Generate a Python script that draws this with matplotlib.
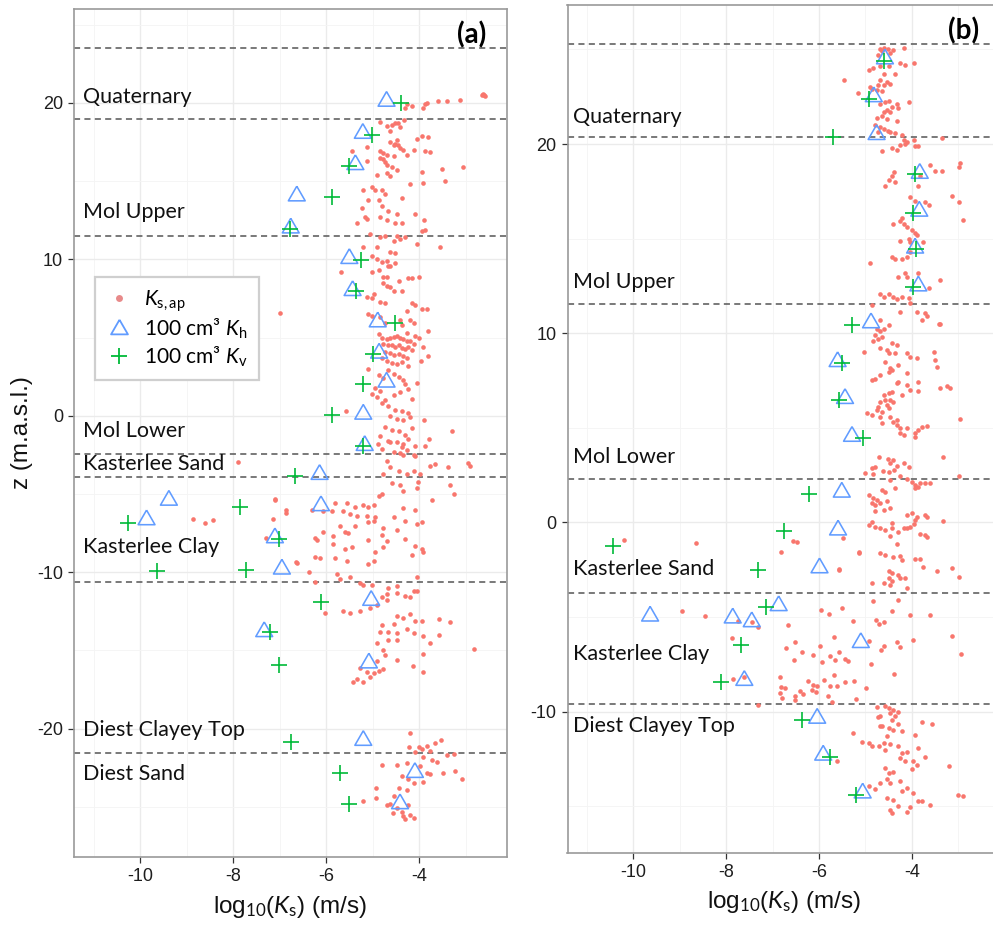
import matplotlib
matplotlib.use("Agg")
import matplotlib.pyplot as plt
from matplotlib.lines import Line2D
from matplotlib.ticker import MultipleLocator
import numpy as np

# ---------------- data ----------------
# panel (a): boundaries (m.a.s.l.) and layer labels
a_bounds = [23.5, 18.95, 11.5, -2.45, -3.9, -10.62, -21.55]
a_labels = ["Quaternary", "Mol Upper", "Mol Lower", "Kasterlee Sand",
            "Kasterlee Clay", "Diest Clayey Top", "Diest Sand"]
a_label_z = [20.4, 13.0, -1.0, -3.1, -8.4, -20.1, -22.9]

# panel (a): 100 cm3 Kh (triangles) and Kv (plus)
a_kh_x = [-4.70, -5.21, -5.37, -6.63, -6.76, -5.50, -5.43, -4.89, -4.86, -4.70, -5.20, -5.17,
          -6.14, -9.38, -6.11, -9.86, -7.10, -6.95, -5.03, -7.33, -5.08, -5.20, -4.09, -4.41]
a_kh_z = [20.1, 18.05, 16.05, 14.05, 12.0, 10.05, 8.0, 6.0, 4.0, 2.15, 0.1, -1.9,
          -3.75, -5.4, -5.75, -6.65, -7.8, -9.8, -11.8, -13.8, -15.8, -20.75, -22.8, -24.8]
a_kv_x = [-4.39, -5.02, -5.50, -5.87, -6.77, -5.25, -5.35, -4.52, -5.00, -5.20, -5.87, -5.21,
          -6.66, -7.85, -10.26, -7.02, -9.63, -7.73, -6.11, -7.20, -7.02, -6.76, -5.70, -5.50]
a_kv_z = [19.98, 17.97, 15.96, 14.0, 11.94, 9.98, 7.97, 5.96, 3.95, 2.03, 0.04, -1.92,
          -3.85, -5.81, -6.84, -7.86, -9.94, -9.87, -11.88, -13.85, -15.92, -20.85, -22.82, -24.83]

# panel (a): Ks,ap (log10 Ks, z)
a_dots = [
    (-4.26, 19.9), (-4.16, 19.8), (-3.91, 19.7), (-3.87, 19.9), (-3.83, 20.0), (-3.60, 20.1),
    (-3.40, 20.1), (-3.13, 20.2), (-2.65, 20.5), (-2.62, 20.55), (-2.60, 20.5), (-2.58, 20.45),
    (-4.30, 19.7),
    (-4.84, 18.8), (-4.70, 18.5), (-4.59, 18.6), (-4.52, 18.7), (-4.45, 18.7), (-4.41, 18.45),
    (-4.62, 18.2), (-4.32, 18.9), (-4.05, 17.7), (-3.94, 17.9), (-3.80, 17.85), (-4.63, 17.5),
    (-4.55, 17.3), (-4.48, 17.6),
    (-4.52, 17.4), (-4.45, 17.3), (-4.41, 17.1), (-4.34, 17.0), (-4.84, 16.9),
    (-4.77, 16.8), (-4.68, 16.7), (-5.13, 17.2), (-5.45, 16.9), (-4.12, 17.0), (-3.87, 16.95),
    (-3.76, 16.85), (-4.27, 16.7),
    (-4.77, 16.4), (-4.73, 16.2), (-4.68, 16.0), (-4.84, 16.5), (-4.59, 15.9), (-4.48, 15.7),
    (-4.70, 15.5), (-4.62, 15.3), (-4.91, 15.4), (-5.13, 16.3), (-3.94, 15.6), (-3.51, 15.8),
    (-3.05, 15.9), (-4.55, 16.6),
    (-3.91, 14.9), (-3.44, 15.0), (-4.19, 14.8), (-5.02, 14.6), (-4.95, 14.4), (-4.80, 14.4),
    (-4.73, 14.2), (-5.20, 14.4), (-5.09, 13.8), (-4.37, 13.9), (-5.23, 13.3), (-4.87, 13.8),
    (-4.80, 13.4), (-4.66, 13.1), (-4.48, 12.9), (-4.09, 12.9), (-5.16, 12.7), (-5.13, 12.6),
    (-5.34, 12.3), (-4.84, 12.7), (-4.70, 12.5), (-4.52, 12.3), (-4.37, 12.3), (-3.90, 12.5),
    (-5.05, 11.6), (-4.84, 11.4), (-4.73, 11.5), (-4.48, 11.5), (-4.41, 11.3), (-4.30, 11.4),
    (-3.94, 11.8), (-3.87, 11.9), (-4.55, 11.2), (-4.05, 11.0), (-3.55, 10.8), (-5.20, 10.8),
    (-4.91, 10.8), (-4.62, 10.5), (-4.52, 10.4),
    (-5.02, 10.2), (-4.91, 10.0), (-4.80, 9.8), (-4.70, 9.9), (-4.62, 9.6), (-4.52, 9.75),
    (-5.02, 9.2), (-4.87, 9.3), (-4.77, 8.9), (-4.70, 8.9), (-4.66, 9.6), (-5.68, 9.2),
    (-4.23, 8.8), (-4.16, 8.8), (-4.01, 8.9), (-4.44, 8.6),
    (-4.77, 8.5), (-4.70, 8.3), (-4.62, 8.2), (-4.55, 8.0), (-4.37, 8.0), (-4.98, 7.8),
    (-5.13, 7.6), (-5.02, 7.5), (-4.84, 7.3), (-4.73, 7.2), (-4.16, 7.2), (-4.09, 7.1),
    (-6.99, 6.56),
    (-5.09, 6.5), (-5.02, 6.4), (-4.84, 6.3), (-4.73, 5.9), (-4.26, 6.7), (-3.94, 6.8),
    (-3.83, 6.8), (-4.41, 6.1), (-4.19, 6.1), (-4.12, 5.9), (-4.26, 5.3), (-4.09, 5.1),
    (-4.01, 5.0), (-3.80, 5.4), (-4.37, 5.8),
    (-4.87, 5.2), (-4.80, 5.0), (-4.70, 4.9), (-4.62, 4.95), (-4.55, 5.05), (-4.48, 5.1),
    (-4.41, 5.0), (-4.34, 4.9), (-4.26, 4.8), (-4.19, 4.75), (-4.12, 4.6), (-4.77, 4.6),
    (-4.66, 4.5), (-4.59, 4.55), (-4.52, 4.4), (-4.44, 4.5), (-4.37, 4.35), (-4.30, 4.3),
    (-4.23, 4.4), (-4.16, 4.2), (-4.73, 4.1), (-4.62, 4.0), (-4.55, 3.9), (-4.44, 3.95),
    (-4.34, 3.8), (-4.26, 3.7), (-4.80, 3.7), (-4.70, 3.5), (-4.59, 3.4), (-4.48, 3.3),
    (-4.37, 3.45), (-4.23, 3.2), (-3.91, 4.4), (-3.80, 3.8), (-3.95, 3.5),
    (-5.09, 3.0), (-4.87, 2.6), (-4.77, 2.4), (-4.66, 2.9), (-4.55, 2.7), (-4.44, 2.5),
    (-4.34, 2.3), (-4.30, 2.0), (-4.23, 1.7), (-4.95, 1.8), (-4.84, 1.6), (-4.91, 1.2),
    (-4.73, 1.0), (-4.55, 1.3), (-4.41, 1.5), (-4.16, 1.1), (-4.04, 2.1), (-5.01, 1.4),
    (-4.80, 0.8), (-4.66, 0.6), (-4.52, 0.4), (-4.37, 0.3), (-4.23, 0.2), (-4.62, 0.0),
    (-4.48, -0.2), (-4.34, -0.3), (-4.19, -0.1), (-3.90, -0.3), (-5.58, 0.3), (-4.73, -0.7),
    (-4.59, -0.9), (-4.44, -1.0), (-4.30, -1.2), (-4.16, -0.8), (-4.84, -1.3), (-4.66, -1.6),
    (-4.48, -1.7), (-4.34, -1.8), (-4.23, -1.5), (-4.09, -1.9), (-4.80, -2.1), (-4.55, -2.3),
    (-4.41, -2.4), (-4.27, -2.2), (-3.30, -1.0), (-3.78, -1.5), (-4.12, -2.5),
    (-4.88, -1.8), (-4.62, -1.7), (-4.37, -2.0), (-4.34, -2.5), (-4.09, -2.6), (-3.87, -1.9),
    (-4.70, -2.9), (-4.62, -3.3), (-4.77, -3.7), (-4.44, -3.5), (-4.27, -3.7), (-4.12, -3.5),
    (-3.98, -3.7), (-3.76, -3.2), (-3.66, -3.1), (-3.37, -3.3), (-2.94, -3.0), (-2.90, -3.2),
    (-4.59, -4.3), (-4.41, -4.4), (-4.34, -4.8), (-4.05, -4.6), (-4.02, -4.2), (-3.33, -4.4),
    (-3.26, -5.0), (-3.73, -5.4), (-7.89, -2.95),
    (-7.10, -5.4), (-6.87, -6.2), (-7.15, -6.6), (-7.29, -7.8), (-6.63, -9.4), (-6.36, -10.0),
    (-6.24, -10.6), (-8.87, -6.62), (-8.60, -6.88), (-8.44, -6.67), (-7.09, -5.3), (-6.86, -6.05),
    (-6.65, -9.36),
    (-5.81, -5.6), (-5.55, -5.6), (-5.38, -5.8), (-5.20, -5.7), (-5.09, -5.8), (-4.98, -5.7),
    (-4.87, -5.1), (-4.80, -5.0), (-4.34, -5.9), (-4.09, -6.0), (-6.31, -6.0), (-6.06, -6.1),
    (-5.88, -6.1), (-5.63, -6.1), (-5.48, -6.3), (-5.34, -6.4), (-5.12, -6.4), (-4.95, -6.5),
    (-4.55, -6.5), (-4.30, -6.7), (-4.05, -6.9), (-3.94, -6.8), (-5.70, -7.05), (-5.59, -7.4),
    (-5.52, -7.5), (-5.38, -7.05), (-5.09, -6.8), (-4.98, -6.7), (-4.77, -7.2), (-4.80, -7.65),
    (-4.70, -8.0), (-4.48, -7.3), (-4.30, -7.9), (-4.09, -8.3), (-3.94, -8.5), (-3.91, -8.7),
    (-4.16, -8.9), (-5.86, -7.7), (-5.86, -8.2), (-6.24, -7.8), (-6.20, -7.95), (-6.06, -7.4),
    (-5.59, -8.5), (-5.45, -8.4), (-5.09, -7.95), (-4.95, -8.7), (-4.77, -8.4), (-6.24, -9.0),
    (-6.13, -9.1), (-5.81, -9.1), (-5.55, -9.3), (-5.09, -9.5), (-4.98, -9.3), (-5.77, -10.1),
    (-5.70, -10.4), (-5.48, -10.3), (-5.27, -10.7), (-5.20, -10.8), (-5.02, -10.8), (-4.05, -10.3),
    (-4.48, -10.9), (-4.05, -11.2), (-4.66, -11.0),
    (-4.70, -11.4), (-4.48, -11.3), (-4.30, -11.5), (-4.19, -11.6), (-4.12, -11.2), (-4.80, -11.6),
    (-4.91, -12.1), (-4.70, -11.8), (-5.27, -12.5), (-5.48, -12.6), (-5.63, -12.5), (-6.02, -12.6),
    (-5.05, -12.3), (-4.48, -12.8), (-4.34, -12.9), (-4.19, -12.7), (-4.09, -13.1), (-3.94, -13.1),
    (-3.58, -13.0), (-3.33, -13.2), (-4.55, -13.3), (-4.80, -13.4), (-4.84, -13.8), (-4.66, -13.8),
    (-4.48, -13.9), (-4.27, -13.6), (-4.12, -13.9), (-3.91, -14.1), (-3.58, -14.0), (-3.76, -14.5),
    (-2.83, -14.9), (-4.91, -14.5), (-4.77, -15.0), (-4.66, -14.3), (-4.48, -14.3), (-4.73, -15.3),
    (-4.48, -15.6), (-4.91, -15.7), (-5.27, -16.1), (-5.12, -16.35), (-4.98, -16.45), (-4.87, -16.3),
    (-5.05, -16.7), (-5.20, -17.0), (-5.34, -16.8), (-5.43, -17.0), (-4.77, -16.2), (-4.14, -16.0),
    (-3.92, -16.35), (-3.92, -15.2),
    (-4.19, -20.3), (-4.01, -21.2), (-3.94, -21.3), (-3.83, -21.1), (-3.76, -21.4), (-3.53, -20.7),
    (-3.66, -20.9), (-3.40, -21.7), (-3.26, -21.6), (-4.21, -21.2), (-4.09, -21.5), (-3.91, -21.8),
    (-3.73, -22.0), (-3.62, -22.1), (-4.48, -22.3), (-4.27, -22.2), (-4.80, -22.3), (-3.98, -22.4),
    (-3.83, -22.8), (-3.48, -22.8), (-3.23, -22.7), (-3.08, -23.2), (-4.37, -23.0), (-4.23, -23.2),
    (-4.12, -23.5), (-3.91, -23.4), (-3.76, -22.9), (-4.44, -23.8), (-4.27, -23.9), (-4.55, -24.3),
    (-4.62, -24.8), (-4.70, -24.9), (-4.48, -25.1), (-4.37, -25.3), (-4.30, -25.8), (-4.19, -25.5),
    (-4.12, -25.7), (-4.92, -23.8), (-4.92, -24.4), (-5.21, -24.6), (-4.23, -24.9), (-4.35, -25.6),
    (-4.56, -25.4),
]

# panel (b)
b_bounds = [25.3, 20.35, 11.53, 2.29, -3.73, -9.6]
b_labels = ["Quaternary", "Mol Upper", "Mol Lower", "Kasterlee Sand",
            "Kasterlee Clay", "Diest Clayey Top"]
b_label_z = [21.44, 12.71, 3.47, -2.48, -6.94, -10.77]

b_kh_x = [-4.58, -4.82, -4.76, -3.83, -3.84, -3.93, -3.86, -4.88, -5.60, -5.44, -5.29,
          -5.51, -5.59, -5.99, -6.87, -9.64, -7.86, -7.45, -5.10, -7.61, -6.04, -5.91, -5.06]
b_kh_z = [24.5, 22.5, 20.5, 18.45, 16.45, 14.5, 12.5, 10.55, 8.5, 6.55, 4.55,
          1.6, -0.4, -2.4, -4.4, -4.95, -5.05, -5.25, -6.35, -8.35, -10.35, -12.3, -14.3]
b_kv_x = [-4.59, -4.92, -5.69, -3.93, -3.98, -3.90, -3.97, -5.28, -5.51, -5.56, -5.05,
          -6.22, -6.76, -10.45, -7.31, -7.14, -7.69, -8.12, -6.37, -5.76, -5.20]
b_kv_z = [24.40, 22.39, 20.35, 18.41, 16.38, 14.47, 12.44, 10.46, 8.45, 6.47, 4.49,
          1.51, -0.47, -1.23, -2.50, -4.46, -6.49, -8.45, -10.44, -12.41, -14.39]

b_dots = [
    (-4.68, 25.05), (-4.61, 25.1), (-4.52, 25.05), (-4.65, 24.9), (-4.72, 24.7), (-4.47, 24.8),
    (-4.40, 24.96), (-4.18, 25.1), (-4.25, 24.3), (-4.14, 24.2), (-3.96, 24.3), (-4.93, 23.9),
    (-4.83, 24.0), (-4.68, 24.1), (-4.50, 24.1), (-4.36, 23.7), (-4.61, 23.7), (-4.68, 23.4),
    (-4.54, 23.3), (-4.61, 23.1), (-5.47, 23.4), (-4.47, 23.2), (-4.72, 23.1),
    (-5.15, 22.7), (-4.86, 22.9), (-4.75, 22.85), (-4.65, 22.8), (-4.58, 22.2), (-4.50, 22.3),
    (-4.43, 21.97), (-4.32, 22.1), (-4.07, 22.2), (-4.68, 22.1), (-4.61, 21.7), (-4.54, 21.8),
    (-4.47, 21.7), (-4.29, 21.9), (-4.75, 21.4), (-4.65, 21.5), (-4.54, 21.3), (-4.32, 21.2),
    (-4.90, 23.0),
    (-4.79, 21.0), (-4.68, 20.9), (-4.61, 20.8), (-4.52, 20.7), (-4.47, 20.65), (-4.36, 20.6),
    (-4.22, 20.5), (-4.72, 20.65), (-4.18, 20.2), (-4.11, 20.1), (-3.96, 20.2), (-4.25, 19.95),
    (-4.14, 20.0), (-3.93, 19.9), (-3.86, 19.9), (-4.43, 19.8), (-4.32, 19.7), (-4.65, 19.65),
    (-3.35, 20.3),
    (-3.60, 18.9), (-3.50, 18.6), (-3.35, 18.6), (-2.96, 19.0), (-2.99, 18.8), (-4.38, 18.5),
    (-4.43, 18.3), (-4.50, 18.1), (-4.58, 17.8), (-4.36, 18.0), (-3.86, 17.8), (-3.82, 18.3),
    (-4.04, 17.2), (-3.93, 17.0), (-3.71, 16.95), (-3.64, 16.8), (-3.14, 17.25), (-2.99, 16.95),
    (-2.89, 16.0), (-4.22, 16.1), (-4.25, 15.95), (-4.18, 15.8), (-4.40, 15.8), (-4.11, 15.6),
    (-4.00, 15.45), (-3.93, 15.3), (-3.89, 15.2), (-4.07, 15.0), (-4.04, 14.8), (-4.25, 14.9),
    (-3.75, 14.8),
    (-4.43, 14.05), (-4.36, 13.9), (-4.22, 13.9), (-4.11, 14.05), (-4.90, 13.7), (-4.04, 14.3),
    (-4.14, 13.2), (-4.11, 13.0), (-4.29, 13.0), (-3.86, 13.2), (-3.64, 12.4), (-3.39, 12.8),
    (-4.68, 12.1), (-4.61, 11.9), (-4.50, 12.1), (-4.40, 11.9), (-4.32, 11.8), (-4.22, 11.9),
    (-4.07, 11.85), (-4.04, 11.6), (-4.86, 11.5), (-4.25, 11.1), (-3.89, 11.1), (-3.71, 11.05),
    (-3.68, 10.9), (-3.78, 10.7), (-3.39, 10.5), (-4.68, 10.7),
    (-4.75, 10.2), (-4.68, 10.1), (-4.61, 10.2), (-4.79, 9.9), (-4.72, 9.7), (-4.65, 9.8),
    (-4.83, 9.6), (-4.50, 10.45), (-3.42, 10.5),
    (-5.03, 9.0), (-4.68, 9.2), (-4.54, 9.1), (-4.43, 9.5), (-4.32, 9.4), (-4.36, 8.94),
    (-4.50, 8.94), (-4.11, 8.94), (-4.04, 8.76), (-3.89, 8.68), (-3.53, 9.0), (-3.50, 8.6),
    (-3.46, 8.24), (-4.58, 8.5), (-4.47, 8.15), (-4.43, 8.06), (-4.29, 8.3), (-4.11, 7.88),
    (-4.50, 7.97),
    (-4.86, 7.53), (-4.79, 7.6), (-4.68, 7.8), (-4.32, 7.35), (-4.29, 7.45), (-4.11, 7.27),
    (-4.04, 7.0), (-3.86, 7.45), (-3.86, 6.97), (-3.39, 7.1), (-3.25, 7.2), (-3.17, 7.1),
    (-4.50, 6.83), (-4.43, 6.9), (-4.61, 6.74), (-4.58, 6.47), (-4.47, 6.47), (-4.40, 6.39),
    (-4.68, 6.39), (-4.72, 6.12), (-4.54, 6.21), (-4.50, 6.03), (-4.22, 6.74),
    (-4.97, 5.8), (-4.86, 5.68), (-4.75, 5.95), (-4.65, 5.86), (-4.68, 5.6), (-4.65, 5.24),
    (-4.47, 5.6), (-4.40, 5.33), (-4.32, 5.42), (-4.32, 5.15), (-4.25, 4.98), (-4.25, 4.71),
    (-4.18, 4.63), (-4.11, 4.98), (-3.93, 4.71), (-3.86, 4.89), (-3.78, 5.07), (-3.68, 5.1),
    (-3.93, 4.54), (-2.96, 5.45),
    (-4.70, 3.45), (-4.52, 3.34), (-4.40, 3.3), (-4.47, 3.13), (-4.31, 2.99), (-4.18, 3.16),
    (-4.07, 2.95), (-4.86, 2.86), (-4.79, 2.95), (-4.63, 2.74), (-4.50, 2.69), (-4.38, 2.78),
    (-5.01, 2.6), (-4.83, 2.57), (-4.25, 2.43), (-4.11, 2.28), (-4.47, 2.25), (-3.33, 3.48),
    (-2.99, 2.46),
    (-4.00, 2.16), (-3.93, 1.99), (-3.82, 2.07), (-3.71, 2.11), (-3.60, 2.07), (-3.93, 1.81),
    (-3.86, 1.9), (-4.36, 1.81), (-4.65, 1.72), (-4.58, 1.63), (-4.93, 1.46), (-4.83, 1.28),
    (-4.75, 1.19), (-4.68, 1.02), (-4.79, 0.93), (-4.54, 1.11), (-4.61, 0.67), (-4.47, 0.75),
    (-4.79, 0.58), (-4.86, 1.02),
    (-4.11, 0.4), (-4.00, 0.49), (-3.89, 0.31), (-3.93, 0.14), (-3.71, 0.4), (-3.68, 0.28),
    (-3.32, 0.1), (-4.86, 0.05), (-4.93, -0.13), (-4.79, -0.25), (-4.68, -0.3), (-4.58, -0.39),
    (-4.43, -0.04), (-4.43, -0.3), (-4.29, -0.48), (-4.18, -0.3), (-4.11, -0.3), (-4.04, -0.22),
    (-3.96, -0.08), (-3.82, -0.6), (-3.71, -0.66), (-3.68, -0.78), (-4.47, -0.74), (-4.32, -1.13),
    (-5.49, -0.83),
    (-5.13, -1.54), (-4.68, -1.62), (-4.58, -1.71), (-4.40, -1.84), (-4.25, -1.76), (-4.22, -2.01),
    (-3.93, -1.94), (-3.82, -1.94), (-3.75, -2.33), (-3.46, -2.59), (-3.14, -2.42), (-2.99, -2.86),
    (-5.56, -2.47), (-4.50, -2.59), (-4.43, -2.68), (-4.29, -2.77), (-4.25, -2.94), (-4.14, -2.94),
    (-4.50, -2.94), (-4.43, -3.12), (-4.61, -3.21), (-4.47, -3.3), (-4.11, -3.47), (-4.86, -3.21),
    (-10.2, -0.95), (-8.66, -1.09), (-6.57, -1.0), (-6.48, -1.05), (-6.81, -1.56), (-5.56, -2.53),
    (-5.13, -1.6),
    (-8.96, -4.67), (-8.46, -4.93), (-7.88, -6.11), (-7.74, -5.23), (-7.45, -5.28), (-7.31, -5.53),
    (-7.85, -8.28), (-7.61, -8.19), (-7.32, -9.67), (-6.66, -5.44), (-6.52, -6.34), (-6.71, -6.66),
    (-6.55, -7.26), (-6.84, -8.17), (-6.82, -8.7), (-6.73, -8.75), (-6.84, -9.02), (-6.80, -9.28),
    (-6.52, -9.19), (-6.42, -8.93), (-6.34, -9.05), (-6.52, -9.37), (-6.23, -8.36), (-6.12, -8.58),
    (-6.05, -8.66), (-5.90, -8.31), (-6.16, -8.84), (-6.06, -8.98), (-6.37, -6.87), (-6.13, -7.01),
    (-5.98, -6.52), (-5.93, -7.4), (-5.96, -4.65), (-5.78, -4.83), (-5.51, -4.53), (-5.67, -6.08),
    (-5.58, -6.87), (-5.76, -7.08), (-5.65, -7.26), (-5.44, -7.22), (-5.37, -7.34), (-5.67, -8.05),
    (-5.76, -8.66), (-5.62, -8.63), (-5.44, -8.45), (-5.24, -8.4), (-4.98, -8.75), (-5.21, -9.31),
    (-5.80, -9.16), (-5.72, -9.51), (-5.26, -5.23), (-4.93, -6.25), (-4.88, -7.47), (-4.83, -4.17),
    (-4.77, -5.18), (-4.70, -5.35), (-4.61, -5.28), (-4.66, -6.73), (-4.60, -6.55), (-4.43, -4.7),
    (-4.30, -4.12), (-4.32, -6.32), (-4.25, -6.6), (-4.38, -8.0), (-4.04, -4.88), (-3.97, -6.23),
    (-3.61, -4.88), (-3.14, -5.99), (-2.94, -6.96),
    (-4.76, -9.75), (-4.58, -9.72), (-4.50, -9.81), (-4.40, -9.9), (-4.29, -10.04), (-4.47, -10.07),
    (-4.36, -10.25), (-4.68, -10.25), (-4.43, -10.42), (-4.29, -10.64), (-4.65, -10.78), (-4.50, -10.86),
    (-4.40, -10.95), (-4.22, -11.04), (-4.54, -11.3), (-4.61, -11.66), (-4.47, -11.69), (-4.58, -12.01),
    (-4.29, -11.83), (-4.22, -12.18), (-4.11, -12.15), (-4.25, -12.45), (-4.14, -12.63), (-3.97, -12.63),
    (-3.89, -12.8), (-4.00, -13.03), (-4.58, -12.98), (-4.50, -13.24), (-4.40, -13.2), (-4.54, -13.56),
    (-4.68, -13.77), (-4.79, -14.09), (-4.48, -13.77), (-4.25, -13.68), (-4.11, -14.03), (-4.22, -14.21),
    (-3.97, -14.3), (-4.54, -14.56), (-4.40, -14.69), (-4.29, -14.97), (-4.47, -15.18), (-4.43, -15.35),
    (-4.11, -15.32), (-4.04, -15.04), (-3.86, -14.74), (-3.79, -14.74), (-3.61, -14.91), (-5.08, -11.6),
    (-5.26, -11.13), (-4.93, -11.66), (-4.86, -11.8), (-4.72, -10.3), (-4.68, -10.78), (-3.93, -11.22),
    (-3.79, -10.56), (-3.57, -10.64), (-3.86, -11.92), (-3.71, -12.4), (-3.20, -12.85), (-3.00, -14.39),
    (-2.89, -14.44), (-4.93, -13.91), (-5.62, -12.63), (-4.70, -11.8),
]

# ---------------- style ----------------
RED, BLUE, GREEN = "#F8766D", "#619CFF", "#00BA38"
plt.rcParams["font.family"] = ["Liberation Sans", "DejaVu Sans"]
plt.rcParams["axes.unicode_minus"] = False
plt.rcParams["mathtext.fontset"] = "custom"
plt.rcParams["mathtext.rm"] = "Lato"
plt.rcParams["mathtext.it"] = "Lato:italic"
plt.rcParams["mathtext.bf"] = "Lato:bold"

W, H = 993, 927
fig = plt.figure(figsize=(W / 100, H / 100), dpi=100)

# equilateral triangle centred on its centroid (like R pch 2)
tri = [(0, 0.577), (-0.5, -0.289), (0.5, -0.289), (0, 0.577)]

def px_axes(left, top, right, bottom):
    return fig.add_axes([left / W, 1 - bottom / H, (right - left) / W, (bottom - top) / H])

def style_axes(ax, xlim, ylim):
    ax.set_xlim(*xlim)
    ax.set_ylim(*ylim)
    ax.xaxis.set_major_locator(MultipleLocator(2))
    ax.xaxis.set_minor_locator(MultipleLocator(1))
    ax.yaxis.set_major_locator(MultipleLocator(10))
    ax.yaxis.set_minor_locator(MultipleLocator(5))
    ax.grid(which="major", color="#EBEBEB", lw=1.0, zorder=0)
    ax.grid(which="minor", color="#F4F4F4", lw=0.6, zorder=0)
    ax.set_axisbelow(True)
    for s in ax.spines.values():
        s.set_color("#9A9A9A")
        s.set_linewidth(1.2)
    ax.tick_params(which="major", length=4.5, width=0.9, color="#333333",
                   labelsize=13, labelcolor="#1E1E1E", pad=3.5)
    ax.tick_params(which="minor", length=0)

def draw_panel(ax, dots, kh_x, kh_z, kv_x, kv_z, bounds, labels, label_z, label_x):
    for zb in bounds:
        ax.axhline(zb, color="#555555", lw=1.1, ls=(0, (4, 2.8)), zorder=1)
    dx = [d[0] for d in dots]
    dz = [d[1] for d in dots]
    ax.scatter(dx, dz, s=11, c=RED, linewidths=0, zorder=2)
    ax.scatter(kh_x, kh_z, marker=tri, s=14 ** 2, facecolors="none",
               edgecolors=BLUE, linewidths=1.15, zorder=3)
    ax.scatter(kv_x, kv_z, marker="+", s=12 ** 2, c=GREEN, linewidths=1.2, zorder=4)
    for lab, zl in zip(labels, label_z):
        ax.text(label_x, zl, lab, fontsize=15.5, family="Lato", color="#111111",
                ha="left", va="center", zorder=5)

# panel (a)
axa = px_axes(74, 9, 507, 857)
style_axes(axa, (-11.42, -2.11), (-28.2, 26.0))
draw_panel(axa, a_dots, a_kh_x, a_kh_z, a_kv_x, a_kv_z, a_bounds, a_labels, a_label_z, -11.23)
axa.text(0.919, 0.970, "(a)", transform=axa.transAxes, fontsize=20, family="Lato",
         fontweight="bold", ha="center", va="center")

handles = [
    Line2D([], [], ls="none", marker="o", markersize=5, markerfacecolor="#E88A8A",
           markeredgewidth=0),
    Line2D([], [], ls="none", marker=tri, markersize=14, markerfacecolor="none",
           markeredgecolor=BLUE, markeredgewidth=1.3),
    Line2D([], [], ls="none", marker="+", markersize=12, color=GREEN, markeredgewidth=1.3),
]
labels = [r"$K_{\mathrm{s,ap}}$", r"100 cm³ $K_{\mathrm{h}}$", r"100 cm³ $K_{\mathrm{v}}$"]
leg = axa.legend(handles, labels, loc="upper left", bbox_to_anchor=(0.0485, 0.684),
                 borderaxespad=0, frameon=True, fancybox=False, framealpha=1,
                 edgecolor="#CFCFCF", prop={"family": "Lato", "size": 15},
                 handlelength=1.2, handletextpad=0.6, labelspacing=0.15,
                 borderpad=0.55)
leg.get_frame().set_linewidth(1.6)
leg.set_zorder(6)

# panel (b)
axb = px_axes(567.5, 5, 1000.5, 853)
style_axes(axb, (-11.42, -2.09), (-17.47, 27.35))
draw_panel(axb, b_dots, b_kh_x, b_kh_z, b_kv_x, b_kv_z, b_bounds, b_labels, b_label_z, -11.30)
axb.text(0.9157, 0.969, "(b)", transform=axb.transAxes, fontsize=20, family="Lato",
         fontweight="bold", ha="center", va="center")

# axis titles
xl = r"log$_{10}$($K_{\mathrm{s}}$) (m/s)"
fig.text(290.5 / W, 1 - 907 / H, xl, ha="center", va="center", fontsize=17.5,
         family="Liberation Sans", color="#111111")
fig.text(784 / W, 1 - 902 / H, xl, ha="center", va="center", fontsize=17.5,
         family="Liberation Sans", color="#111111")
fig.text(22 / W, 1 - 433 / H, "z (m.a.s.l.)", ha="center", va="center", rotation=90,
         fontsize=17.5, family="Liberation Sans", color="#111111")

fig.savefig("out.png", dpi=100)
